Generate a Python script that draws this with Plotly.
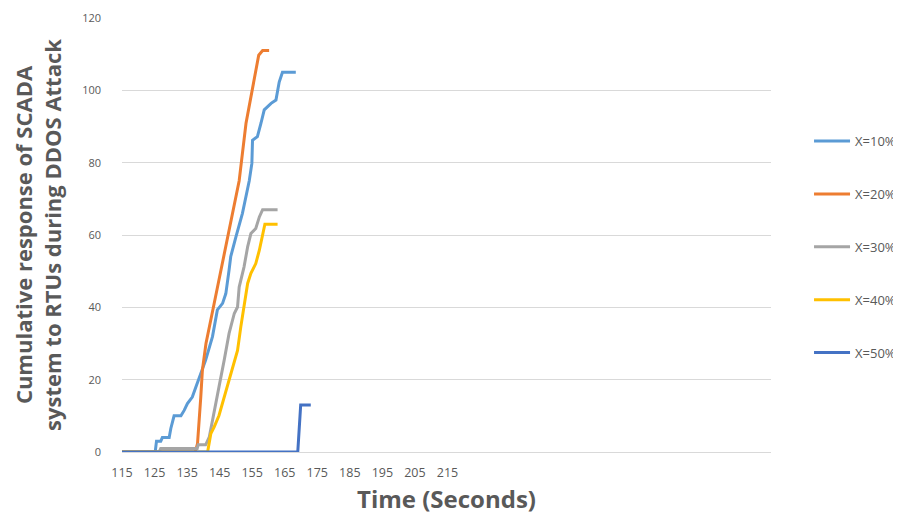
import plotly.graph_objects as go

# ---- data ----
series_names = ["X=10%", "X=20%", "X=30%", "X=40%", "X=50%"]

t10 = [115, 125.2, 125.6, 126.9, 127.4, 129.5, 130.0, 131.0, 133.1, 134.1, 135.1, 136.6, 137.7,
       138.7, 140.7, 142.8, 144.3, 145.9, 146.9, 147.9, 148.4, 150.0, 152.0, 154.1, 154.9,
       155.1, 156.6, 157.7, 158.7, 160.8, 162.3, 163.3, 164.3, 168.4]
v10 = [0, 0, 3, 3, 4, 4, 6.5, 10, 10, 11.5, 13.4, 15.2, 18, 20.4, 25.4, 31.9, 39.3, 41.1, 43.8,
       50.3, 54, 59.5, 66, 75, 79.8, 86.2, 87.2, 90.9, 94.6, 96.4, 97.3, 102.3, 105, 105]

t20 = [115, 137.5, 138.2, 138.7, 139.2, 139.7, 140.8, 143.3, 146.9, 151.0, 153.1, 155.1, 157.0,
       158.2, 160.2]
v20 = [0, 0, 2.3, 8, 15.2, 22.6, 30, 41, 56.7, 75, 90.9, 101.1, 109.7, 111, 111]

t30 = [115, 126.4, 126.9, 138.1, 138.4, 140.7, 141.8, 143.3, 144.8, 146.4, 147.9, 149.5, 150.5,
       151.0, 152.5, 153.6, 154.6, 156.1, 157.2, 158.2, 162.8]
v30 = [0, 0, 1, 1, 2, 2, 4.1, 10.6, 18, 25.4, 32.8, 38.3, 40.1, 45.6, 51.2, 56.7, 60.4, 61.8,
       65, 67, 67]

t40 = [115, 141.3, 142.3, 143.3, 144.8, 146.4, 147.9, 149.5, 150.5, 151.5, 152.5, 153.6, 154.6,
       156.1, 157.2, 158.2, 158.9, 162.8]
v40 = [0, 0, 5.1, 6.9, 10.1, 15.2, 19.8, 25.4, 28.1, 34.6, 40.1, 46.6, 49.4, 52.1, 55.8, 60.4,
       63, 63]

t50 = [115, 169.0, 169.9, 173.0]
v50 = [0, 0, 13, 13]

x_ticks = [115, 125, 135, 145, 155, 165, 175, 185, 195, 205, 215]
y_ticks = [0, 20, 40, 60, 80, 100, 120]

colors = ["#5B9BD5", "#ED7D31", "#A5A5A5", "#FFC000", "#4472C4"]

fig = go.Figure()
for name, t, v, c in zip(series_names, [t10, t20, t30, t40, t50], [v10, v20, v30, v40, v50], colors):
    fig.add_trace(go.Scatter(x=t, y=v, mode="lines", name=name, legendgroup=name,
                             line=dict(color=c, width=3)))

font_family = "Open Sans"
fig.update_layout(
    width=893, height=507,
    margin=dict(l=114, r=130, t=10, b=63, autoexpand=False),
    plot_bgcolor="white", paper_bgcolor="white",
    font=dict(family=font_family, color="#595959"),
    showlegend=True,
    legend=dict(x=1.0586, xanchor="left", xref="paper", y=0.751, yanchor="top",
                font=dict(size=13, color="#595959"), tracegroupgap=33, itemwidth=36,
                bgcolor="rgba(0,0,0,0)"),
    xaxis=dict(range=[115, 314.4], tickvals=x_ticks, ticktext=[str(v) for v in x_ticks],
               showgrid=False, zeroline=False, showline=False, automargin=False,
               tickfont=dict(size=12.5, color="#595959"), ticklabelstandoff=11,
               title=dict(text="<b>Time (Seconds)</b>", font=dict(size=24, color="#595959"),
                          standoff=18)),
    yaxis=dict(range=[0, 120], tickvals=y_ticks, showgrid=True, gridcolor="#D9D9D9",
               gridwidth=1, zeroline=True, zerolinecolor="#D9D9D9", zerolinewidth=1,
               showline=False, automargin=False,
               tickfont=dict(size=11, color="#595959"), ticklabelstandoff=20,
               title=dict(text="<b>Cumulative response of SCADA<br>system to RTUs during DDOS Attack</b>",
                          font=dict(size=22, color="#595959"), standoff=14)),
)

fig.write_html("out.html")
